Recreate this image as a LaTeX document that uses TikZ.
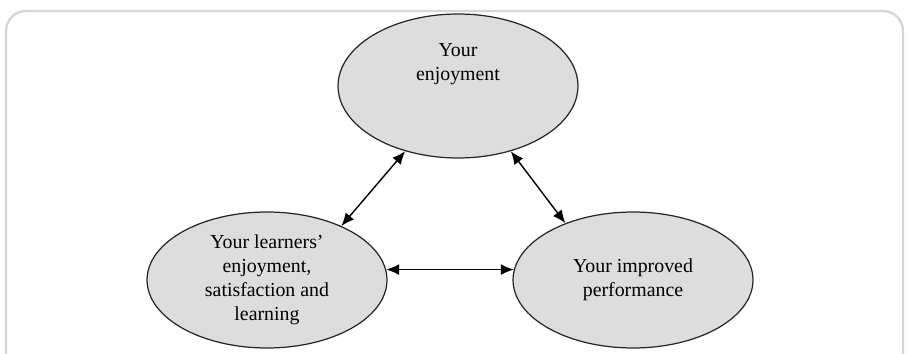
\documentclass[tikz,border=0pt]{standalone}
\usepackage{fontspec}
\setmainfont{Liberation Serif}
\usetikzlibrary{shapes.geometric,arrows.meta}

\definecolor{bubblefill}{RGB}{221,221,221}
\definecolor{framegray}{RGB}{214,214,214}

\tikzstyle{bubble} = [ellipse, draw=black!85, line width=0.7pt, fill=bubblefill, inner sep=0pt, align=center, font=\fontsize{11.3}{13.7}\selectfont, minimum width=4.8cm]
\tikzstyle{bigbubble}   = [bubble, minimum height=2.88cm, text depth=0.95cm]
\tikzstyle{smallbubble} = [bubble, minimum height=2.72cm]
\tikzstyle{link} = [{Latex[length=2.6mm,width=2.2mm]}-{Latex[length=2.6mm,width=2.2mm]}, line width=0.8pt]

\begin{document}
\begin{tikzpicture}[x=0.02cm, y=-0.02cm]
  \useasboundingbox (0,0) rectangle (909,354);
  \clip (0,0) rectangle (909,354);
  \draw[framegray, line width=1.4pt, rounded corners=0.4cm] (6,11) rectangle (903,390);

  \node[bigbubble]   (enjoy)    at (458,86)  {Your\\enjoyment};
  \node[smallbubble] (learners) at (267,280) {Your learners'\\enjoyment,\\satisfaction and\\learning};
  \node[smallbubble] (perform)  at (633,280) {Your improved\\performance};

  \draw[link] (enjoy.231)  -- (learners.36);
  \draw[link] (enjoy.309)  -- (perform.140);
  \draw[link] (learners.5) -- (perform.175);
\end{tikzpicture}
\end{document}
